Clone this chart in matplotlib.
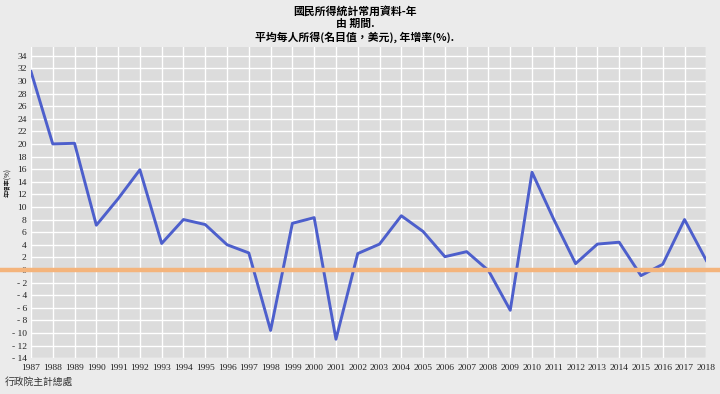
import matplotlib
matplotlib.use('Agg')
import matplotlib.pyplot as plt
from matplotlib.lines import Line2D
import numpy as np

plt.rcParams['font.family'] = ['Noto Sans CJK TC', 'DejaVu Sans']

# 資料
years = list(range(1987, 2019))
growth = [31.5, 20.0, 20.1, 7.1, 11.3, 15.9, 4.2, 8.0, 7.2, 4.0, 2.7, -9.6,
          7.4, 8.3, -11.0, 2.6, 4.1, 8.6, 6.1, 2.1, 2.9, -0.1, -6.4, 15.5,
          8.0, 1.0, 4.1, 4.4, -0.9, 0.9, 8.0, 1.5]
y_ticks = list(range(-14, 35, 2))
title_lines = ['國民所得統計常用資料-年', '由 期間.', '平均每人所得(名目值，美元), 年增率(%).']
source = '行政院主計總處'

fig = plt.figure(figsize=(7.2, 3.94), dpi=100)
fig.patch.set_facecolor('#ebebeb')
ax = fig.add_axes([0.043, 0.091, 0.938, 0.79])
ax.set_facecolor('#dcdcdc')

ax.set_xlim(1987, 2018)
ax.set_ylim(-14, 35.4)
ax.set_xticks(years)
ax.set_yticks(y_ticks)
ax.set_xticklabels([str(y) for y in years], family='Liberation Serif', fontsize=6.8)
ax.set_yticklabels([str(v) if v >= 0 else '- ' + str(-v) for v in y_ticks],
                   family='Liberation Serif', fontsize=6.8)
ax.tick_params(axis='x', length=0, pad=4.5, colors='#222222')
ax.tick_params(axis='y', length=0, pad=3, colors='#222222')
for lbl in ax.get_yticklabels():
    lbl.set_verticalalignment('center_baseline')
ax.grid(True, color='white', lw=1.0)
ax.set_axisbelow(True)
for s in ax.spines.values():
    s.set_visible(False)

ax.plot(years, growth, color='#4d5fcc', lw=2.1, zorder=3)

# 零線延伸至整張圖
y0 = ax.transData.transform((1987, 0))[1] / fig.bbox.height
fig.add_artist(Line2D([0, 1], [y0, y0], transform=fig.transFigure,
                      color='#f4b47c', lw=3.2, zorder=2))

fig.text(0.493, 0.985, title_lines[0], ha='center', va='top', fontsize=7.8, weight='bold')
fig.text(0.493, 0.952, title_lines[1], ha='center', va='top', fontsize=7.8, weight='bold')
fig.text(0.493, 0.919, title_lines[2], ha='center', va='top', fontsize=7.8, weight='bold')
fig.text(0.011, 0.538, '年增率(%)', rotation=90, ha='center', va='center', fontsize=4.5)
fig.text(0.007, 0.032, source, ha='left', va='center', fontsize=7, style='italic', color='#333333')

fig.savefig('out.png', dpi=100, facecolor=fig.get_facecolor())
